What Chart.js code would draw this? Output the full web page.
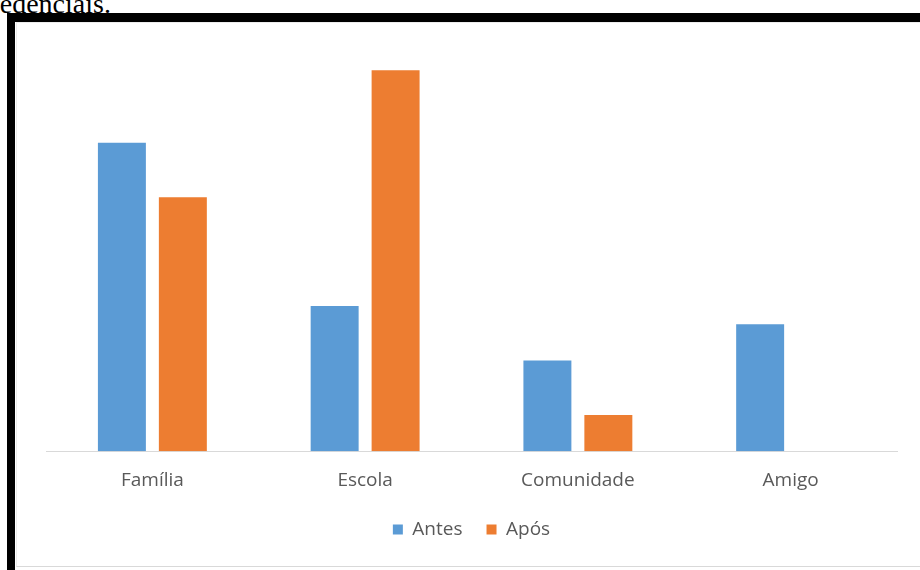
<!DOCTYPE html>
<html lang="pt">
<head>
<meta charset="utf-8">
<title>Antes e Após</title>
<script src="https://cdn.jsdelivr.net/npm/chart.js@4"></script>
<style>
  html, body {
    margin: 0;
    padding: 0;
    background: #ffffff;
  }
  body {
    position: relative;
    width: 920px;
    height: 570px;
    overflow: hidden;
  }
  /* texto do parágrafo anterior, cortado pelo topo */
  #linha-acima {
    position: absolute;
    left: -22px;
    top: -10px;
    font-family: "Liberation Serif", "DejaVu Serif", serif;
    font-size: 28px;
    line-height: 1;
    color: #000;
    white-space: nowrap;
  }
  #moldura {
    position: absolute;
    left: 7px;
    top: 13px;
    width: 960px;
    height: 600px;
    border-left: 8px solid #000;
    border-top: 9px solid #000;
  }
  #caixa {
    position: absolute;
    left: 16px;
    top: 22px;
    width: 940px;
    height: 543px;
    border-bottom: 1px solid #d9d9d9;
    border-top: 1px solid #ececec;
    border-left: 1px solid #ececec;
  }
  #area {
    position: absolute;
    left: 17px;
    top: 23px;
    width: 903px;
    height: 543px;
  }
</style>
</head>
<body>
<div id="linha-acima">credenciais.</div>
<div id="moldura"></div>
<div id="caixa"></div>
<div id="area"><canvas id="grafico"></canvas></div>

<script>
// Categorias e séries
const categorias = ["Família", "Escola", "Comunidade", "Amigo"];
const antes = [17, 8, 5, 7];
const apos = [14, 21, 2, 0];

const azul = "#5b9bd5";
const laranja = "#ed7d31";
const cinzaTexto = "#595959";
const fonte = '"Open Sans", "Noto Sans", sans-serif';

const ctx = document.getElementById("grafico").getContext("2d");
const grafico = new Chart(ctx, {
    type: "bar",
    data: {
        labels: categorias,
        datasets: [
            {
                label: "Antes",
                data: antes,
                backgroundColor: azul,
                borderWidth: 0,
            },
            {
                label: "Após",
                data: apos,
                backgroundColor: laranja,
                borderWidth: 0,
            },
        ],
    },
    options: {
        responsive: true,
        maintainAspectRatio: false,
        animation: false,
        categoryPercentage: 0.573,
        barPercentage: 0.787,
        layout: {
            padding: { left: 29, right: 23, top: 11, bottom: 17 },
        },
        scales: {
            x: {
                grid: { display: false, drawTicks: false },
                border: { display: true, color: "#d9d9d9", width: 1 },
                ticks: {
                    color: cinzaTexto,
                    padding: 18,
                    font: { family: fonte, size: 19 },
                },
                // eixo mais baixo para deixar a legenda mais perto dos rótulos
                afterFit: (scale) => {
                    scale.height -= 14;
                },
            },
            y: {
                display: false,
                min: 0,
                max: 23,
            },
        },
        plugins: {
            legend: {
                position: "bottom",
                labels: {
                    color: cinzaTexto,
                    boxWidth: 10,
                    boxHeight: 10,
                    padding: 24,
                    font: { family: fonte, size: 19 },
                },
            },
            tooltip: { enabled: false },
        },
    },
});
</script>
</body>
</html>
